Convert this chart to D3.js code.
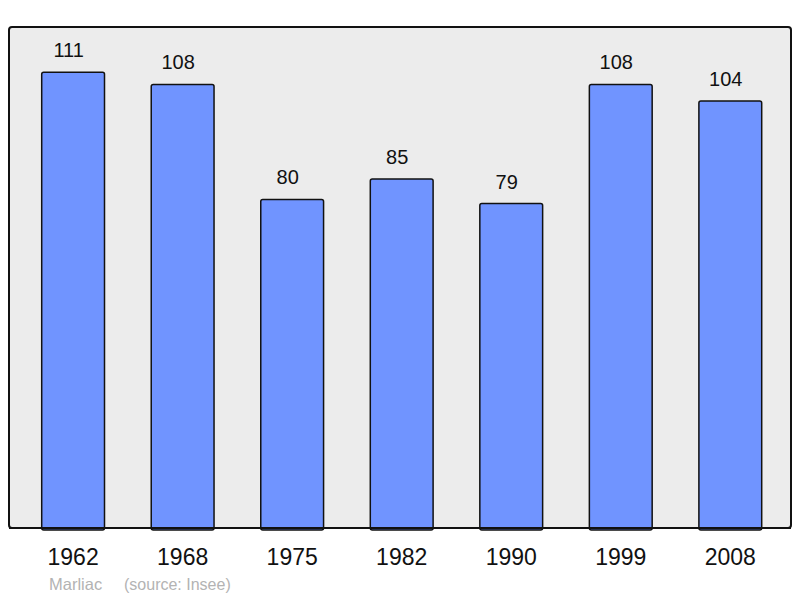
<!DOCTYPE html>
<html>
<head>
<meta charset="utf-8">
<script src="https://cdn.jsdelivr.net/npm/d3@7"></script>
<style>
  html, body { margin: 0; padding: 0; background: #fff; }
  svg { display: block; font-family: "Liberation Sans", Arial, sans-serif; }
</style>
</head>
<body>
<svg id="chart" width="800" height="598"></svg>
<script>
var years = ["1962", "1968", "1975", "1982", "1990", "1999", "2008"];
var population = [111, 108, 80, 85, 79, 108, 104];
var commune = "Marliac";
var source = "(source: Insee)";

var svg = d3.select("#chart"),
  panel = {left: 9, top: 27, right: 791, bottom: 528};

svg.append("rect")
  .attr("x", panel.left)
  .attr("y", panel.top)
  .attr("width", panel.right - panel.left)
  .attr("height", panel.bottom - panel.top)
  .attr("rx", 3)
  .attr("fill", "#ececec")
  .attr("stroke", "#111")
  .attr("stroke-width", 2);

var x = d3.scaleBand()
  .domain(years)
  .range([41.7, 761.7])
  .paddingInner(0.4266)
  .paddingOuter(0);

var y = d3.scaleLinear()
  .domain([0, 122])
  .range([panel.bottom, panel.top]);

var bars = svg.append("g");
bars.selectAll("rect")
  .data(population)
  .enter().append("rect")
  .attr("x", function(d, i) { return x(years[i]); })
  .attr("y", function(d) { return y(d); })
  .attr("width", x.bandwidth())
  .attr("height", function(d) { return y(0) - y(d) + 2; })
  .attr("rx", 2)
  .attr("fill", "#7094ff")
  .attr("stroke", "#111")
  .attr("stroke-width", 1.5);

// redraw panel bottom line over bars
svg.append("line")
  .attr("x1", panel.left)
  .attr("x2", panel.right)
  .attr("y1", panel.bottom)
  .attr("y2", panel.bottom)
  .attr("stroke", "#111")
  .attr("stroke-width", 2);

// value labels sit a little left of the bar centre in the original
svg.append("g").selectAll("text")
  .data(population)
  .enter().append("text")
  .attr("x", function(d, i) { return x(years[i]) + x.bandwidth() / 2 - 4.5; })
  .attr("y", function(d) { return y(d) - 15; })
  .attr("text-anchor", "middle")
  .attr("font-size", 20)
  .attr("fill", "#111")
  .text(function(d) { return d; });

var xAxis = svg.append("g")
  .attr("transform", "translate(0," + panel.bottom + ")")
  .call(d3.axisBottom(x).tickSize(0).tickPadding(0));
xAxis.select(".domain").remove();
xAxis.selectAll("text")
  .attr("dy", null)
  .attr("y", 37)
  .attr("font-family", "Liberation Sans, Arial, sans-serif")
  .attr("font-size", 23)
  .attr("fill", "#111");

svg.append("text")
  .attr("x", 49)
  .attr("y", 590)
  .attr("font-size", 16.5)
  .attr("fill", "#b3b3b3")
  .text(commune);

svg.append("text")
  .attr("x", 124)
  .attr("y", 590)
  .attr("font-size", 16)
  .attr("fill", "#b3b3b3")
  .text(source);
</script>
</body>
</html>
